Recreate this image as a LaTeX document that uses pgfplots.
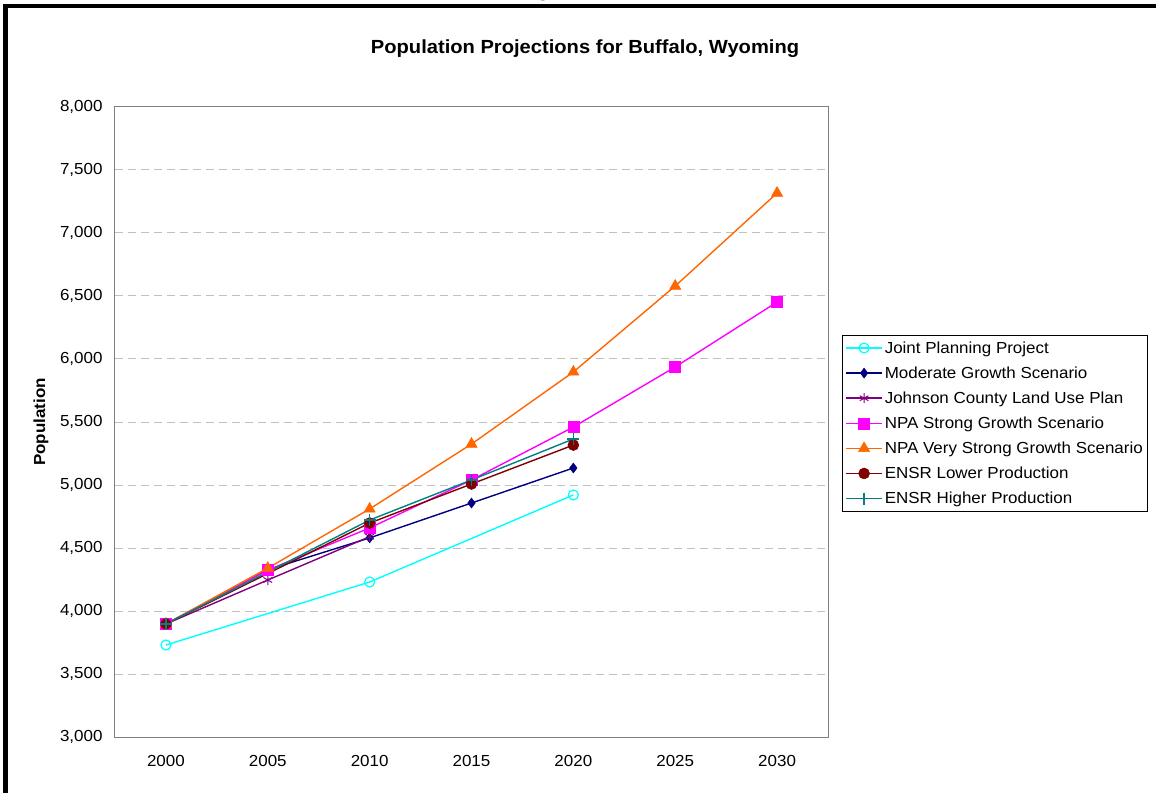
\documentclass[border=0pt]{standalone}
\usepackage{fontspec}
\setmainfont{Liberation Sans}[FakeStretch=1.06]
\newfontfamily\seriffont{Liberation Serif}
\usepackage{pgfplots}
\pgfplotsset{compat=1.18}
\definecolor{jpp}{RGB}{0,255,255}
\definecolor{mgs}{RGB}{0,0,128}
\definecolor{jcl}{RGB}{128,0,128}
\definecolor{npas}{RGB}{255,0,255}
\definecolor{npav}{RGB}{255,102,0}
\definecolor{ensrl}{RGB}{128,0,0}
\definecolor{ensrh}{RGB}{0,128,128}
\definecolor{gridgray}{RGB}{192,192,192}
\definecolor{axisgray}{RGB}{128,128,128}

\begin{document}
\begin{tikzpicture}[x=1pt,y=1pt]
\useasboundingbox (0,0) rectangle (1156,793);
% page frame
\fill[black] (2.5,0) rectangle (8.3,789);
\fill[black] (2.5,785) rectangle (1156,789);
\node[anchor=base, inner sep=0pt, font=\seriffont\fontsize{20}{24}\selectfont] at (543,796.5) {g};
% chart title
\node[font=\bfseries\fontsize{19}{22}\selectfont] at (585,744) {Population Projections for Buffalo, Wyoming};
\begin{axis}[
  at={(115pt,56pt)}, anchor=south west,
  scale only axis, width=713pt, height=630pt,
  xmin=1997.5, xmax=2032.5, ymin=3000, ymax=8000,
  xtick={2000,2005,...,2030}, ytick={3000,3500,...,8000},
  major tick length=0pt,
  ymajorgrids,
  grid style={gridgray, dash pattern=on 8pt off 5pt, line width=1pt},
  axis line style={axisgray, line width=1pt},
  tick label style={font=\fontsize{16}{19}\selectfont},
  /pgf/number format/assume math mode=true,
  xticklabel style={/pgf/number format/1000 sep={}, yshift=-15pt},
  yticklabel style={/pgf/number format/1000 sep={,}, xshift=-9pt},
  ylabel={Population},
  ylabel style={font=\bfseries\fontsize{16}{19}\selectfont, at={(axis description cs:-0.1038,0.5)}, anchor=center},
  legend cell align=left,
  legend style={at={(axis description cs:1.0196,0.638)}, anchor=north west,
    draw=black, line width=0.8pt, font=\fontsize{16}{19}\selectfont,
    row sep=8pt, inner xsep=3pt, inner ysep=4pt},
  legend image code/.code={\draw[mark repeat=2,mark phase=2,#1] plot coordinates {(0pt,0pt) (18pt,0pt) (36pt,0pt)};},
  every axis plot/.append style={line width=1.4pt},
]
\addplot[jpp, mark=o, mark size=5pt, mark options={line width=1.2pt, fill=white}]
  coordinates {(2000,3730) (2010,4230) (2020,4921)};
\addlegendentry{Joint Planning Project}
\addplot[mgs, mark=diamond*, mark size=5pt, mark options={line width=0.5pt}]
  coordinates {(2000,3897) (2005,4327) (2010,4580) (2015,4857) (2020,5135)};
\addlegendentry{Moderate Growth Scenario}
\addplot[jcl, mark=asterisk, mark size=5pt, mark options={line width=1pt}]
  coordinates {(2000,3897) (2005,4246) (2010,4590)};
\addlegendentry{Johnson County Land Use Plan}
\addplot[npas, mark=square*, mark size=5.5pt, mark options={line width=0.5pt}]
  coordinates {(2000,3897) (2005,4325) (2010,4659) (2015,5040) (2020,5460) (2025,5937) (2030,6452)};
\addlegendentry{NPA Strong Growth Scenario}
\addplot[npav, mark=triangle*, mark size=6.5pt, mark options={line width=0.5pt}]
  coordinates {(2000,3897) (2005,4340) (2010,4810) (2015,5325) (2020,5897) (2025,6579) (2030,7317)};
\addlegendentry{NPA Very Strong Growth Scenario}
\addplot[ensrl, mark=*, mark size=5.5pt, mark options={line width=0.5pt}]
  coordinates {(2000,3897) (2010,4698) (2015,5008) (2020,5317)};
\addlegendentry{ENSR Lower Production}
\addplot[ensrh, mark=+, mark size=6pt, mark options={line width=1.2pt}]
  coordinates {(2000,3897) (2010,4722) (2015,5040) (2020,5365)};
\addlegendentry{ENSR Higher Production}
\end{axis}
\end{tikzpicture}
\end{document}
